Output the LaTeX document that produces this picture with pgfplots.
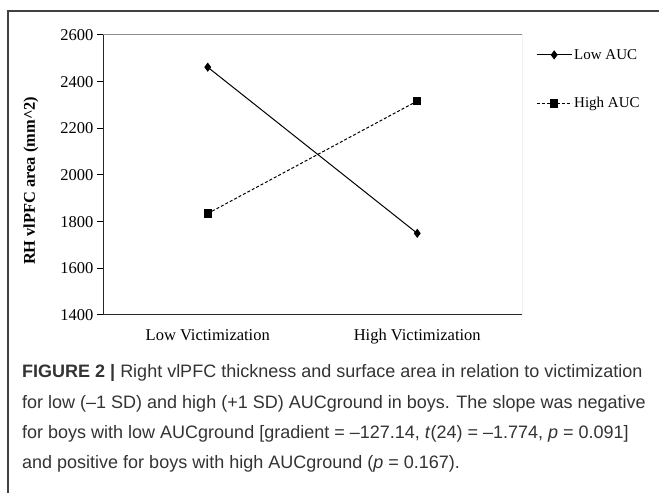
\documentclass[border=0pt]{standalone}
\usepackage{fontspec}
\setmainfont{Liberation Serif}
\newfontfamily\capfont{Liberation Sans}
\usepackage{pgfplots}
\pgfplotsset{compat=1.18}
\definecolor{captxt}{HTML}{333333}
\begin{document}
\begin{tikzpicture}[x=1bp,y=1bp]
\path[use as bounding box] (0,0) rectangle (659,493);
\draw[line width=1.2bp, black!75] (8,0) -- (8,482) -- (659,482);
\begin{axis}[
  at={(103bp,178bp)}, anchor=south west,
  width=419bp, height=280bp, scale only axis,
  xmin=0, xmax=2, ymin=1400, ymax=2600,
  ytick={1400,1600,...,2600},
  xtick={0.5,1.5}, xticklabels={Low Victimization, High Victimization},
  extra x ticks={1}, extra x tick labels={},
  extra x tick style={major tick style={draw=black, line width=1bp}},
  major x tick style={draw=none},
  major y tick style={draw=black, line width=1bp},
  major tick length=6bp,
  xtick pos=bottom, ytick pos=left, tick align=outside,
  axis line style={draw=none},
  /pgf/number format/assume math mode=true,
  /pgf/number format/1000 sep={},
  tick label style={font=\fontsize{16.5bp}{19bp}\selectfont},
  x tick label style={yshift=-5bp},
  ylabel={\textbf{RH vlPFC area (mm\textasciicircum 2)}},
  every axis y label/.style={at={(rel axis cs:-0.172,0.479)}, anchor=center, rotate=90, font=\fontsize{16.4bp}{19bp}\selectfont},
  legend style={at={(rel axis cs:1,1)}, anchor=north west, xshift=11bp, yshift=-10bp,
     draw=none, fill=none, row sep=33bp, font=\fontsize{15bp}{18bp}\selectfont},
  legend cell align=left,
  legend image code/.code={\draw[mark repeat=2,mark phase=2,#1] plot coordinates {(0bp,0bp) (17.5bp,0bp) (35bp,0bp)};},
]
\addplot[black, line width=1bp, mark=diamond*, mark size=3.8bp] coordinates {(0.5,2462) (1.5,1750)};
\addlegendentry{Low AUC}
\addplot[black, line width=1bp, dash pattern=on 3bp off 2bp, mark=square*, mark size=3.6bp, mark options={solid}] coordinates {(0.5,1835) (1.5,2317)};
\addlegendentry{High AUC}
\draw[black!45, line width=1bp] (rel axis cs:0,1) -- (rel axis cs:1,1) -- (rel axis cs:1,0);
\draw[black!85, line width=1.4bp] (rel axis cs:0,1) -- (rel axis cs:0,0) -- (rel axis cs:1,0);
\end{axis}
\begin{scope}[every node/.style={anchor=base west, inner sep=0pt, text=captxt, font=\capfont\fontsize{18bp}{21bp}\selectfont}]
\node at (22,115) {\textbf{FIGURE 2 |} Right vlPFC thickness and surface area in relation to victimization};
\node at (22,84) {for low (–1 SD) and high (+1 SD) AUCground in boys. The slope was negative};
\node at (22,54) {for boys with low AUCground [gradient = –127.14, \textit{t}(24) = –1.774, \textit{p} = 0.091]};
\node at (22,24) {and positive for boys with high AUCground (\textit{p} = 0.167).};
\end{scope}
\end{tikzpicture}
\end{document}
